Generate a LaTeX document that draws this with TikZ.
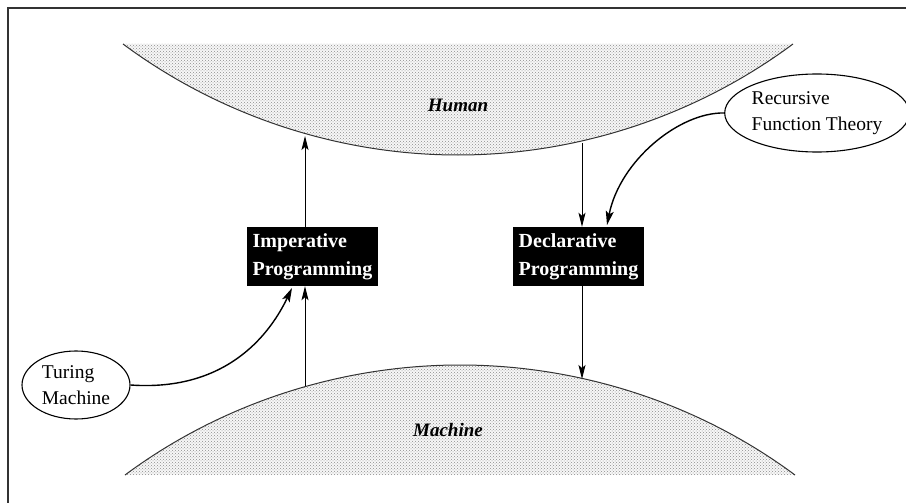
\documentclass[tikz,border=0pt]{standalone}
\usepackage{fontspec}
\setmainfont{Liberation Serif}
\usetikzlibrary{arrows.meta,patterns,shapes.geometric}

\tikzset{
  realm/.style={pattern=crosshatch dots, pattern color=black!45},
  rim/.style={line width=1pt, draw=black!80},
  paradigm/.style={rectangle, fill=black, text=white, font=\fontsize{20}{28}\selectfont\bfseries,
    minimum width=131pt, minimum height=59pt, inner sep=0pt, align=left},
  theory/.style={ellipse, draw, line width=1.1pt, font=\fontsize{19.5}{26}\selectfont, align=left,
    inner sep=0pt},
  realmlabel/.style={font=\fontsize{19}{22}\selectfont\bfseries\itshape},
  flow/.style={line width=0.9pt, -{Stealth[length=14pt,width=7pt,inset=3pt]}},
  influence/.style={line width=1.4pt, -{Stealth[length=14pt,width=8pt,inset=3pt]}},
}

\begin{document}
\begin{tikzpicture}[x=1pt,y=-1pt]
  \useasboundingbox (0,0) rectangle (906,503);

  % frame (top and left edges)
  \draw[line width=2pt, black!80] (8,503) -- (8,8) -- (906,8);

  % upper realm: Human
  \fill[gray!6] (123,44) .. controls (220,116) and (339,155) .. (458,155)
                         .. controls (577,155) and (696,116) .. (793,44) -- cycle;
  \fill[realm] (123,44) .. controls (220,116) and (339,155) .. (458,155)
                        .. controls (577,155) and (696,116) .. (793,44) -- cycle;
  \draw[rim] (123,44) .. controls (220,116) and (339,155) .. (458,155)
                      .. controls (577,155) and (696,116) .. (793,44);
  \node[realmlabel] (human) at (458,105) {Human};

  % lower realm: Machine
  \fill[gray!6] (125,475) .. controls (222,403) and (341,365) .. (460,365)
                          .. controls (579,365) and (698,403) .. (795,475) -- cycle;
  \fill[realm] (125,475) .. controls (222,403) and (341,365) .. (460,365)
                         .. controls (579,365) and (698,403) .. (795,475) -- cycle;
  \draw[rim] (125,475) .. controls (222,403) and (341,365) .. (460,365)
                       .. controls (579,365) and (698,403) .. (795,475);
  \node[realmlabel] (machine) at (448,430) {Machine};

  % points where the flows meet the realms
  \coordinate (hImp) at (305,136);
  \coordinate (hDec) at (582,143);
  \coordinate (mImp) at (305,386);
  \coordinate (mDec) at (582,379);

  % programming paradigms
  \node[paradigm] (imp) at (312.5,256.5) {Imperative\\Programming};
  \node[paradigm] (dec) at (578.5,256.5) {Declarative\\Programming};

  % theoretical foundations
  \node[theory, minimum width=108pt, minimum height=68pt] (turing) at (76,385)
    {Turing\\Machine};
  \node[theory, minimum width=170pt, minimum height=78pt] (rft) at (817,113)
    {Recursive\\Function Theory};

  % flows
  \draw[flow] (imp.north -| hImp) -- (hImp);
  \draw[flow] (mImp) -- (imp.south -| mImp);
  \draw[flow] (hDec) -- (dec.north -| hDec);
  \draw[flow] (dec.south -| mDec) -- (mDec);

  % influences
  \draw[influence] (turing.east) .. controls (230,392) and (272,330) .. (292,288);
  \draw[influence] (rft.west) .. controls (680,112) and (620,160) .. (607,225);
\end{tikzpicture}
\end{document}
